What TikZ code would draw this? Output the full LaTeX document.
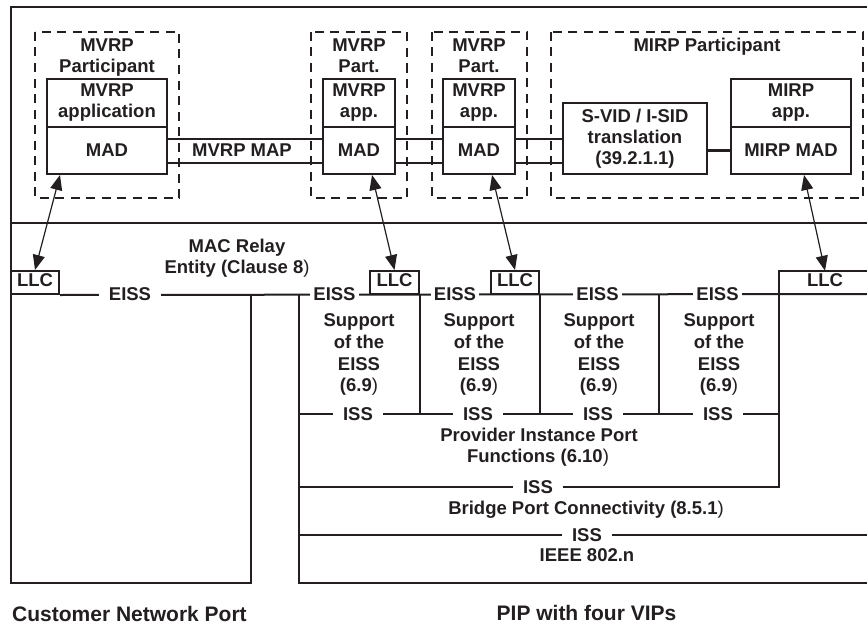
\documentclass[tikz,border=0pt]{standalone}
\usepackage{fontspec}
\setmainfont{Liberation Sans}
\usetikzlibrary{arrows.meta}
\definecolor{ink}{HTML}{231F20}
\newcommand\dfont{\fontsize{18.5}{21}\selectfont\bfseries}
\newcommand\bfont{\fontsize{21}{24}\selectfont\bfseries}
\newcommand\rp{{\mdseries)}}
\begin{document}
\begin{tikzpicture}[x=1pt,y=-1pt,
  ln/.style={draw=ink,line width=2pt},
  boxn/.style={draw=ink,line width=2pt,inner sep=0pt,font=\dfont,text=ink},
  dbox/.style={draw=ink,line width=2pt,dash pattern=on 9pt off 6.5pt},
  txt/.style={font=\dfont,text=ink,inner sep=0pt,anchor=base},
  onln/.style={font=\dfont,text=ink,fill=white,inner xsep=10pt,inner ysep=1pt},
  onlnt/.style={onln,inner xsep=3pt},
  biarrow/.style={draw=ink,line width=1.2pt,{Triangle[length=15pt,width=12pt]}-{Triangle[length=15pt,width=12pt]}},
  thickln/.style={draw=ink,line width=3.5pt}
]
\useasboundingbox (0,0) rectangle (867,626);

% ---------- dashed participant boxes
\draw[dbox] (35,32) rectangle (179,198);
\draw[dbox] (311,32) rectangle (407,198);
\draw[dbox] (432,32) rectangle (527,198);
\draw[dbox] (551,32) rectangle (863,198);

% ---------- application / MAD boxes
\node[boxn,minimum width=120pt,minimum height=48pt] (app1) at (107,103) {};
\node[boxn,minimum width=120pt,minimum height=47pt] (mad1) at (107,150.5) {MAD};
\node[boxn,minimum width=72pt,minimum height=48pt] (app2) at (359,103) {};
\node[boxn,minimum width=72pt,minimum height=47pt] (mad2) at (359,150.5) {MAD};
\node[boxn,minimum width=72pt,minimum height=48pt] (app3) at (479,103) {};
\node[boxn,minimum width=72pt,minimum height=47pt] (mad3) at (479,150.5) {MAD};
\node[boxn,minimum width=144pt,minimum height=71pt] (svid) at (635,138.5) {};
\node[boxn,minimum width=120pt,minimum height=48pt] (app4) at (791,103) {};
\node[boxn,minimum width=120pt,minimum height=47pt] (mad4) at (791,150.5) {MIRP MAD};

% ---------- texts of the upper part
\node[txt] (t1) at (107,52) {MVRP};
\node[txt] (t2) at (107,72.5) {Participant};
\node[txt] (t3) at (107,96.5) {MVRP};
\node[txt] (t4) at (107,117) {application};
\node[txt] (t5) at (359,52) {MVRP};
\node[txt] (t6) at (359,72.5) {Part.};
\node[txt] (t7) at (359,96.5) {MVRP};
\node[txt] (t8) at (359,117) {app.};
\node[txt] (t9) at (479,52) {MVRP};
\node[txt] (t10) at (479,72.5) {Part.};
\node[txt] (t11) at (479,96.5) {MVRP};
\node[txt] (t12) at (479,117) {app.};
\node[txt] (t13) at (707,52) {MIRP Participant};
\node[txt] (t14) at (791,96.5) {MIRP};
\node[txt] (t15) at (791,117) {app.};
\node[txt] (t16) at (635,122) {S-VID / I-SID};
\node[txt] (t17) at (635,143.5) {translation};
\node[txt] (t18) at (635,164.5) {(39.2.1.1)};
\node[font=\dfont,text=ink,inner sep=0pt] (map) at (242,150.5) {MVRP MAP};

% ---------- MAP lines
\draw[ln] ([yshift=12pt]mad1.east) -- ([yshift=12pt]mad2.west);
\draw[ln] ([yshift=-12pt]mad1.east) -- ([yshift=-12pt]mad2.west);
\draw[ln] ([yshift=12pt]mad2.east) -- ([yshift=12pt]mad3.west);
\draw[ln] ([yshift=-12pt]mad2.east) -- ([yshift=-12pt]mad3.west);
\draw[ln] ([yshift=12pt]mad3.east) -- ([yshift=12pt]mad3.east -| svid.west);
\draw[ln] ([yshift=-12pt]mad3.east) -- ([yshift=-12pt]mad3.east -| svid.west);
\draw[thickln] (svid.east |- mad4.west) -- (mad4.west);

% ---------- frame
\draw[ln] (867,7) -- (11,7) -- (11,583) -- (251,583) -- (251,294);
\draw[ln] (11,223) -- (867,223);
\draw[ln] (299,294) -- (299,583) -- (867,583);

% ---------- LLC boxes
\node[boxn,minimum width=48pt,minimum height=23pt,text depth=4pt] (llc1) at (35,282.5) {LLC};
\node[boxn,minimum width=49pt,minimum height=23pt,text depth=4pt] (llc2) at (394.5,282.5) {LLC};
\node[boxn,minimum width=48pt,minimum height=23pt,text depth=4pt] (llc3) at (515,282.5) {LLC};
\node[font=\dfont,text=ink,inner sep=0pt,minimum height=23pt,text depth=4pt] (llc4) at (825,282.5) {LLC};

% ---------- service lines
\draw[ln] (llc1.south east) -- (867,294);
\draw[ln] (llc2.south east) -- (llc2.south east |- 0,414);
\draw[ln] (llc3.south east) -- (llc3.south east |- 0,414);
\draw[ln] (659,294) -- (659,414);
\draw[ln] (867,271) -- (779,271) -- (779,487) -- (299,487);
\draw[ln] (299,414) -- (779,414);
\draw[ln] (299,535) -- (867,535);

% ---------- labels on lines
\node[onln] (e1) at (130,294.5) {EISS};
\node[onlnt] (e2) at (334.5,294.5) {EISS};
\node[onlnt] (e3) at (455,294.5) {EISS};
\node[onlnt] (e4) at (597.5,294.5) {EISS};
\node[onlnt] (e5) at (717.5,294.5) {EISS};
\node[onln] (i1) at (358,414) {ISS};
\node[onln] (i2) at (478,414) {ISS};
\node[onln] (i3) at (598,414) {ISS};
\node[onln] (i4) at (718,414) {ISS};
\node[onln] (i5) at (538,487) {ISS};
\node[onln] (i6) at (587,535) {ISS};

% ---------- texts of the lower part
\node[txt] (mr1) at (237,252) {MAC Relay};
\node[txt] (mr2) at (237,273) {Entity (Clause 8\rp};
\foreach \c [count=\k] in {359,479,599,719} {
  \node[txt] (sa\k) at (\c,326.5) {Support};
  \node[txt] (sb\k) at (\c,348) {of the};
  \node[txt] (sc\k) at (\c,370) {EISS};
  \node[txt] (sd\k) at (\c,391.5) {(6.9\rp};
}
\node[txt] (pp1) at (539,441.5) {Provider Instance Port};
\node[txt] (pp2) at (538,462) {Functions (6.10\rp};
\node[txt] (bpc) at (586,514) {Bridge Port Connectivity (8.5.1\rp};
\node[txt] (ieee) at (587,561.5) {IEEE 802.n};
\node[txt,font=\bfont,anchor=base west] (cnp) at (12,621) {Customer Network Port};
\node[txt,font=\bfont] (pip) at (586.5,620) {PIP with four VIPs};

% ---------- arrows between MADs and LLCs
\draw[biarrow] ([xshift=14pt]mad1.south west) -- (llc1.north);
\draw[biarrow] ([xshift=50pt]mad2.south west) -- (llc2.north);
\draw[biarrow] ([xshift=50pt]mad3.south west) -- (llc3.north);
\draw[biarrow] ([xshift=74pt]mad4.south west) -- (llc4.north);
\end{tikzpicture}
\end{document}
